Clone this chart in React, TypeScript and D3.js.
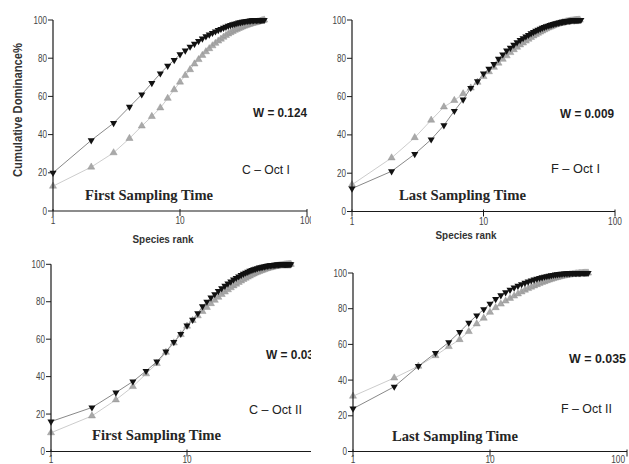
import * as d3 from "d3";

// cumulative dominance (%) by species rank
const cOctIDark = [20, 37, 46, 54.5, 61, 67, 72, 76, 79, 82, 84, 86, 87.5, 89, 90.3, 91.4, 92.4, 93.2, 94, 94.7, 95.3, 95.9, 96.4, 96.9, 97.3, 97.7, 98, 98.3, 98.6, 98.8, 99, 99.2, 99.35, 99.5, 99.6, 99.7, 99.78, 99.84, 99.89, 99.93, 99.96, 99.98, 99.99, 100, 100, 100];
const cOctILight = [13, 23, 30.5, 38, 44.5, 49.5, 54, 59, 63.5, 67.5, 71, 74, 77, 79.3, 81.5, 83.4, 85, 86.5, 87.8, 89, 90, 91, 91.9, 92.7, 93.4, 94, 94.6, 95.1, 95.6, 96, 96.4, 96.8, 97.1, 97.4, 97.7, 97.95, 98.2, 98.4, 98.6, 98.8, 99, 99.2, 99.4, 99.6, 99.8, 100];
const fOctIDark = [12, 21, 30, 37.6, 45, 52.5, 58.4, 64.5, 68, 72, 74.5, 77, 79.7, 82, 84, 85.5, 87, 88.3, 89.5, 90.5, 91.4, 92.2, 93, 93.7, 94.3, 94.9, 95.4, 95.9, 96.3, 96.7, 97, 97.3, 97.6, 97.9, 98.1, 98.3, 98.5, 98.7, 98.9, 99.05, 99.2, 99.3, 99.4, 99.5, 99.6, 99.7, 99.75, 99.8, 99.85, 99.9, 99.93, 99.96, 99.98, 100, 100];
const fOctILight = [14, 28, 38.6, 47.7, 54.6, 58, 61.5, 64.5, 67.5, 70.5, 73, 75.3, 77.5, 79.5, 81.3, 83, 84.5, 85.8, 87, 88, 89, 90, 90.9, 91.7, 92.4, 93.1, 93.7, 94.3, 94.9, 95.4, 95.9, 96.3, 96.7, 97.1, 97.4, 97.7, 98, 98.2, 98.4, 98.6, 98.8, 99, 99.15, 99.3, 99.4, 99.5, 99.6, 99.7, 99.78, 99.85, 99.9, 99.95, 100, 100];
const cOctIIDark = [16, 23.5, 31.5, 37.4, 43, 48, 53.4, 58.4, 62.8, 67.3, 70.3, 73.8, 77.5, 80, 82.2, 84, 85.7, 87.2, 88.5, 89.7, 90.8, 91.8, 92.7, 93.5, 94.2, 94.9, 95.5, 96, 96.5, 96.9, 97.3, 97.6, 97.9, 98.2, 98.4, 98.6, 98.8, 99, 99.15, 99.3, 99.4, 99.5, 99.6, 99.68, 99.75, 99.8, 99.85, 99.9, 99.93, 99.95, 99.97, 99.98, 99.99, 100, 100, 100, 100, 100];
const cOctIILight = [10, 19, 27.6, 34.7, 41.5, 47, 53, 58, 62.5, 67, 70, 72.5, 74.8, 77, 79, 80.8, 82.4, 83.9, 85.2, 86.4, 87.5, 88.5, 89.4, 90.3, 91.1, 91.9, 92.6, 93.2, 93.8, 94.4, 94.9, 95.4, 95.8, 96.2, 96.6, 96.9, 97.2, 97.5, 97.8, 98, 98.2, 98.4, 98.6, 98.8, 98.95, 99.1, 99.2, 99.3, 99.4, 99.5, 99.6, 99.7, 99.75, 99.8, 99.85, 99.9, 99.95, 100];
const fOctIIDark = [24, 36.3, 47.8, 55.2, 61.2, 66.9, 72.1, 76.2, 79.6, 82.8, 85.4, 87.5, 89.2, 90.6, 91.8, 92.8, 93.7, 94.5, 95.2, 95.8, 96.3, 96.8, 97.2, 97.6, 97.9, 98.2, 98.45, 98.7, 98.9, 99.1, 99.25, 99.4, 99.5, 99.6, 99.68, 99.75, 99.8, 99.85, 99.88, 99.91, 99.93, 99.95, 99.96, 99.97, 99.98, 99.99, 100, 100, 100, 100, 100, 100];
const fOctIILight = [31, 41.2, 47.8, 53.7, 58.8, 62.7, 67.2, 71.5, 74.7, 78, 80.6, 82.6, 84.3, 85.8, 87.1, 88.3, 89.4, 90.4, 91.3, 92.1, 92.8, 93.5, 94.1, 94.7, 95.2, 95.7, 96.1, 96.5, 96.9, 97.2, 97.5, 97.8, 98.05, 98.3, 98.5, 98.7, 98.85, 99, 99.15, 99.3, 99.4, 99.5, 99.6, 99.7, 99.78, 99.85, 99.9, 99.95, 100, 100, 100, 100];

const xTicks = [1, 10, 100];
const yTicks = [0, 20, 40, 60, 80, 100];
const wLabels = ["W = 0.124", "W = 0.009", "W = 0.03", "W = 0.035"];
const siteLabels = ["C \u2013 Oct I", "F \u2013 Oct I", "C \u2013 Oct II", "F \u2013 Oct II"];
const timeLabels = ["First Sampling Time", "Last Sampling Time", "First Sampling Time", "Last Sampling Time"];

const SANS = "'Liberation Sans', Arial, sans-serif";
const SERIF = "'Liberation Serif', 'Times New Roman', serif";
const WIDTH = 629;
const CLIP_X = 311;

const panels = [
  { dark: cOctIDark, light: cOctILight, xr: [53, 307], yr: [211, 20], clip: true, tickY: 220.5,
    w: [253, 116.5, 54], site: [242, 173.5, 48], time: [85, 200, 128], rank: [163, 243] },
  { dark: fOctIDark, light: fOctILight, xr: [352, 615], yr: [211.5, 20], clip: false, tickY: 221,
    w: [560, 117.5, 54], site: [551, 172.5, 49], time: [399, 200, 127], rank: [466, 239] },
  { dark: cOctIIDark, light: cOctIILight, xr: [51, 323], yr: [451.5, 264.3], clip: true, tickY: 459,
    w: [266, 358.5, 48], site: [249, 413.5, 53], time: [92, 440, 129], rank: null },
  { dark: fOctIIDark, light: fOctIILight, xr: [353, 627], yr: [451.5, 273], clip: false, tickY: 459,
    w: [569, 362.5, 57], site: [561, 412.5, 51], time: [392, 441, 126], rank: null },
];

const tri = d3.symbol().type(d3.symbolTriangle).size(22)() as string;

function Panel({ p, i }: { p: any; i: number }) {
  const x = d3.scaleLog().domain([1, 100]).range(p.xr);
  const y = d3.scaleLinear().domain([0, 100]).range(p.yr);
  const line = d3.line<number>().x((_, k) => x(k + 1)).y(v => y(v));
  const [x0, x1] = p.xr;
  const [yb, yt] = p.yr;
  // tick labels hidden behind the crop edge of the left panels are left out
  const shownX = xTicks.filter(t => !p.clip || x(t) < CLIP_X);

  return (
    <g clipPath={p.clip ? "url(#leftClip)" : undefined}>
      {/* light series under the dark one */}
      <path d={line(p.light) as string} fill="none" stroke="#c6c6c6" strokeWidth={0.9} />
      <path d={line(p.dark) as string} fill="none" stroke="#7a7a7a" strokeWidth={0.9} />
      {p.light.map((v: number, k: number) => (
        <path key={"l" + k} d={tri} transform={`translate(${x(k + 1)},${y(v)})`}
          fill="#a9a9a9" stroke="#8c8c8c" strokeWidth={0.4} />
      ))}
      {p.dark.map((v: number, k: number) => (
        <path key={"d" + k} d={tri} transform={`translate(${x(k + 1)},${y(v)}) rotate(180)`}
          fill="#111" />
      ))}

      {/* axes */}
      <line x1={x0} x2={x0} y1={yb} y2={yt} stroke="#1a1a1a" strokeWidth={1.2} />
      <line x1={x0} x2={x1} y1={yb} y2={yb} stroke="#1a1a1a" strokeWidth={1.2} />
      {yTicks.map(t => (
        <g key={"y" + t}>
          <line x1={x0 - 5} x2={x0} y1={y(t)} y2={y(t)} stroke="#1a1a1a" strokeWidth={1} />
          <text x={x0 - 6} y={y(t)} dy="0.35em" textAnchor="end" fontFamily={SANS} fontSize={10}
            fill="#444" textLength={String(t).length * 4.5} lengthAdjust="spacingAndGlyphs">{t}</text>
        </g>
      ))}
      {xTicks.map(t => (
        <line key={"xt" + t} x1={x(t)} x2={x(t)} y1={yb - 2} y2={yb + 5} stroke="#1a1a1a" strokeWidth={1} />
      ))}
      {shownX.map(t => {
        const len = String(t).length * 4.6;
        const edge = x(t) + len / 2 > WIDTH - 4;
        return (
          <text key={"xl" + t} x={edge ? WIDTH - 4 : x(t)} y={p.tickY} dy="0.35em"
            textAnchor={edge ? "end" : "middle"} fontFamily={SANS} fontSize={10}
            fill="#444" textLength={len} lengthAdjust="spacingAndGlyphs">{t}</text>
        );
      })}

      <text x={p.w[0]} y={p.w[1]} fontFamily={SANS} fontWeight="bold" fontSize={13} fill="#1e1e1e"
        textLength={p.w[2]} lengthAdjust="spacingAndGlyphs">{wLabels[i]}</text>
      <text x={p.site[0]} y={p.site[1]} fontFamily={SANS} fontSize={13} fill="#222"
        textLength={p.site[2]} lengthAdjust="spacingAndGlyphs">{siteLabels[i]}</text>
      <text x={p.time[0]} y={p.time[1]} fontFamily={SERIF} fontWeight="bold" fontSize={15} fill="#262626"
        textLength={p.time[2]} lengthAdjust="spacingAndGlyphs">{timeLabels[i]}</text>
      {p.rank && (
        <text x={p.rank[0]} y={p.rank[1]} textAnchor="middle" fontFamily={SANS} fontWeight="bold"
          fontSize={11} fill="#333" textLength={61} lengthAdjust="spacingAndGlyphs">Species rank</text>
      )}
    </g>
  );
}

export default function App() {
  return (
    <svg width={WIDTH} height={464} style={{ position: "absolute", left: 0, top: 0, background: "#fff" }}>
      <defs>
        <clipPath id="leftClip">
          <rect x={0} y={0} width={CLIP_X} height={464} />
        </clipPath>
      </defs>
      <rect width={WIDTH} height={464} fill="#fff" />
      {panels.map((p, i) => <Panel key={i} p={p} i={i} />)}
      <text transform="translate(18,110) rotate(-90)" textAnchor="middle" dy="0.35em" fontFamily={SANS}
        fontWeight="bold" fontSize={12} fill="#333" textLength={134} lengthAdjust="spacingAndGlyphs">
        Cumulative Dominance%
      </text>
    </svg>
  );
}
